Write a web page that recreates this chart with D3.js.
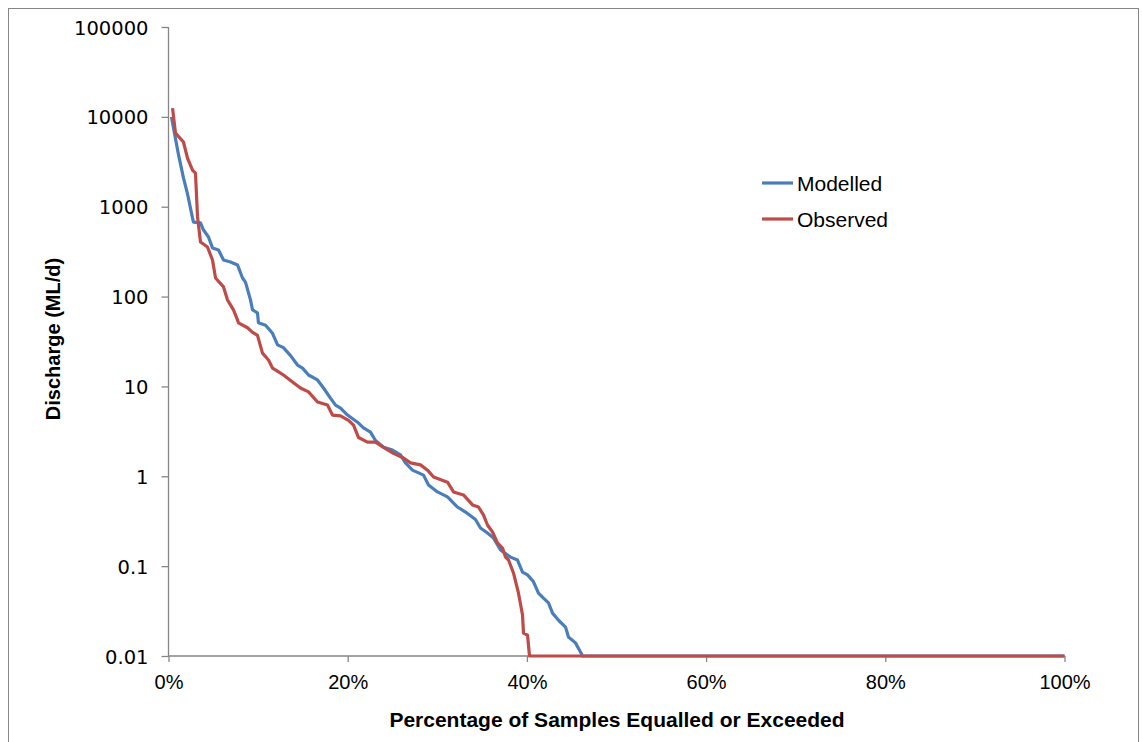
<!DOCTYPE html>
<html>
<head>
<meta charset="utf-8">
<script src="https://cdn.jsdelivr.net/npm/d3@7"></script>
<style>
  body { margin: 0; background: #fff; }
  svg { display: block; }
</style>
</head>
<body>
<svg id="chart"></svg>
<script>
// 데이터
const modelledPct = [0.33, 1.12, 1.67, 2.1, 2.68, 2.79, 3.57, 3.91, 4.46, 4.91, 5.58, 6.14, 6.92, 7.7, 8.26, 8.59, 9.15, 9.38, 9.93, 10.04, 10.83, 11.61, 12.17, 12.83, 13.62, 14.4, 14.96, 15.63, 16.63, 17.3, 18.08, 18.64, 19.2, 19.98, 21.09, 21.76, 22.54, 23.1, 24.0, 25.0, 25.89, 26.45, 27.23, 28.46, 29.02, 30.02, 31.14, 32.25, 33.15, 34.26, 34.82, 35.6, 36.27, 37.05, 38.17, 38.95, 39.51, 40.07, 40.74, 41.29, 41.85, 42.41, 42.86, 43.53, 44.31, 44.64, 45.42, 45.98, 46.21, 100];
const modelledQ = [10000, 3770, 2090, 1420, 750, 675, 660, 550, 460, 348, 330, 255, 243, 225, 161, 145, 92, 71, 66, 51, 48, 39, 29, 27, 22, 17.3, 16, 13.4, 11.8, 9.6, 7.4, 6.2, 5.75, 4.8, 4.0, 3.45, 3.1, 2.5, 2.1, 1.96, 1.73, 1.41, 1.17, 1.03, 0.8, 0.67, 0.59, 0.455, 0.4, 0.33, 0.266, 0.234, 0.206, 0.151, 0.126, 0.117, 0.086, 0.08, 0.067, 0.05, 0.044, 0.039, 0.03, 0.025, 0.021, 0.0163, 0.014, 0.0111, 0.01, 0.01];

const observedPct = [0.45, 0.78, 1.67, 2.12, 2.68, 3.01, 3.24, 3.57, 4.35, 4.91, 5.25, 6.14, 6.58, 7.25, 7.7, 7.81, 8.82, 9.38, 9.93, 10.49, 11.16, 11.61, 12.28, 12.83, 13.84, 14.73, 15.63, 16.63, 17.75, 18.3, 19.2, 20.09, 20.65, 21.21, 22.21, 23.1, 24.0, 25.11, 26.23, 27.01, 28.13, 28.91, 29.58, 31.14, 31.81, 32.92, 33.93, 34.6, 35.16, 35.6, 36.16, 36.72, 37.28, 37.61, 37.95, 38.5, 39.06, 39.51, 39.62, 40.07, 40.29, 100];
const observedQ = [12500, 6600, 5250, 3480, 2560, 2370, 770, 405, 356, 255, 161, 128, 92, 71, 55, 51, 45, 40, 37, 23.5, 19.7, 16, 14.5, 13.4, 11.2, 9.6, 8.7, 6.7, 6.2, 4.8, 4.7, 4.2, 3.7, 2.7, 2.4, 2.4, 2.1, 1.8, 1.6, 1.41, 1.34, 1.17, 0.98, 0.86, 0.67, 0.62, 0.48, 0.455, 0.37, 0.287, 0.24, 0.181, 0.159, 0.126, 0.117, 0.084, 0.05, 0.0286, 0.018, 0.0171, 0.01, 0.01];

const seriesNames = ["Modelled", "Observed"];
const seriesColors = ["#4a7ebb", "#be4b48"];
const yTickValues = [0.01, 0.1, 1, 10, 100, 1000, 10000, 100000];
const yTickLabels = ["0.01", "0.1", "1", "10", "100", "1000", "10000", "100000"];
const xTickValues = [0, 20, 40, 60, 80, 100];

const WIDTH = 1142, HEIGHT = 742;
const MARGIN = { LEFT: 168.5, TOP: 27, RIGHT: 1142 - 1064.5, BOTTOM: 742 - 656 };

const svg = d3.select("#chart").attr("width", WIDTH).attr("height", HEIGHT);

// 바깥 테두리
svg.append("rect")
  .attr("x", 8.5).attr("y", 8.5)
  .attr("width", 1130).attr("height", 740)
  .attr("fill", "#fff")
  .attr("stroke", "#868686").attr("stroke-width", 1);

const xScale = d3.scaleLinear().domain([0, 100]).range([MARGIN.LEFT, WIDTH - MARGIN.RIGHT]);
const yScale = d3.scaleLog().domain([0.01, 100000]).range([HEIGHT - MARGIN.BOTTOM, MARGIN.TOP]);

// y 축
const yAxis = svg.append("g")
  .attr("transform", "translate(" + MARGIN.LEFT + ",0)")
  .call(d3.axisLeft(yScale).tickValues(yTickValues).tickSize(7).tickPadding(13)
    .tickFormat((d, i) => yTickLabels[i]));
yAxis.selectAll("path, line").attr("stroke", "#868686").attr("stroke-width", 1.3);
yAxis.select(".domain").attr("d", "M0," + yScale(100000) + "V" + yScale(0.01));
yAxis.selectAll("text")
  .attr("font-family", "DejaVu Sans, sans-serif")
  .attr("font-size", "19.5px")
  .attr("fill", "#000")
  .attr("dy", "0.36em");

// x 축
const xAxis = svg.append("g")
  .attr("transform", "translate(0," + (HEIGHT - MARGIN.BOTTOM) + ")")
  .call(d3.axisBottom(xScale).tickValues(xTickValues).tickSize(6).tickPadding(13)
    .tickFormat(d => d + "%"));
xAxis.selectAll("path, line").attr("stroke", "#868686").attr("stroke-width", 1.3);
xAxis.select(".domain").attr("d", "M" + xScale(0) + ",0H" + xScale(100));
xAxis.selectAll("text")
  .attr("font-family", "Liberation Sans, sans-serif")
  .attr("font-size", "20px")
  .attr("fill", "#000");

// 라인
const line = d3.line()
  .x(d => xScale(d[0]))
  .y(d => yScale(d[1]));

const series = [
  d3.zip(modelledPct, modelledQ),
  d3.zip(observedPct, observedQ)
];

series.forEach((s, i) => {
  svg.append("path")
    .datum(s)
    .attr("fill", "none")
    .attr("stroke", seriesColors[i])
    .attr("stroke-width", 3.2)
    .attr("stroke-linejoin", "round")
    .attr("d", line);
});

// 범례
const legend = svg.append("g").attr("transform", "translate(762,183)");
seriesNames.forEach((name, i) => {
  const g = legend.append("g").attr("transform", "translate(0," + (i * 36) + ")");
  g.append("line")
    .attr("x1", 0).attr("x2", 31).attr("y1", 0).attr("y2", 0)
    .attr("stroke", seriesColors[i]).attr("stroke-width", 3.2);
  g.append("text")
    .attr("x", 35).attr("y", 0).attr("dy", "0.36em")
    .attr("font-family", "Liberation Sans, sans-serif")
    .attr("font-size", "21px")
    .text(name);
});

// 축 제목
svg.append("text")
  .attr("x", 617).attr("y", 727)
  .attr("text-anchor", "middle")
  .attr("font-family", "Liberation Sans, sans-serif")
  .attr("font-weight", "bold")
  .attr("font-size", "21px")
  .text("Percentage of Samples Equalled or Exceeded");

svg.append("text")
  .attr("transform", "translate(60,339) rotate(-90)")
  .attr("text-anchor", "middle")
  .attr("font-family", "Liberation Sans, sans-serif")
  .attr("font-weight", "bold")
  .attr("font-size", "20px")
  .text("Discharge (ML/d)");
</script>
</body>
</html>
